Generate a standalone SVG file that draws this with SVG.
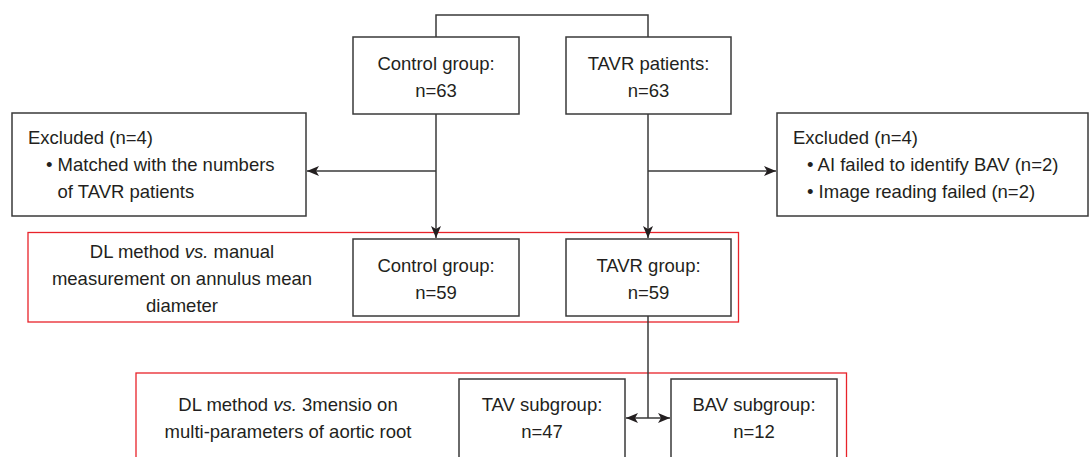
<svg xmlns="http://www.w3.org/2000/svg" width="1089" height="457" viewBox="0 0 1089 457">
<defs>
<style>
.box{fill:#fff;stroke:#3a3a3a;stroke-width:1.5}
.red{fill:none;stroke:#e8232a;stroke-width:1.3}
.t{font-family:"Liberation Sans",Arial,sans-serif;font-size:18.5px;fill:#231f20}
.c{text-anchor:middle}
.ln{fill:none;stroke:#3a3a3a;stroke-width:1.5}
</style>
<marker id="ah" viewBox="0 0 12 10" markerUnits="userSpaceOnUse" markerWidth="12" markerHeight="10" refX="12" refY="5" orient="auto-start-reverse">
<path d="M0,0 L12,5 L0,10 L3,5 z" fill="#231f20"/>
</marker>
</defs>
<rect width="1089" height="457" fill="#fff"/>

<g id="red-frames">
<rect class="red" x="28" y="232.5" width="710.5" height="89.5"/>
<rect class="red" x="136" y="373" width="710.5" height="90"/>
</g>

<g id="connectors">
<path class="ln" d="M436,37 V15 H648 V37"/>
<path class="ln" d="M436,114 V238" marker-end="url(#ah)"/>
<path class="ln" d="M436,171 H307" marker-end="url(#ah)"/>
<path class="ln" d="M648,114 V238" marker-end="url(#ah)"/>
<path class="ln" d="M648,171 H776" marker-end="url(#ah)"/>
<path class="ln" d="M648,316 V418"/>
<path class="ln" d="M626,418 H670" marker-start="url(#ah)" marker-end="url(#ah)"/>
</g>

<g id="control-63">
<rect class="box" x="353" y="37" width="166" height="77"/>
<text class="t c" x="436" y="69.5">Control group:</text>
<text class="t c" x="436" y="97">n=63</text>
</g>

<g id="tavr-63">
<rect class="box" x="566" y="37" width="165" height="77"/>
<text class="t c" x="648.5" y="69.5">TAVR patients:</text>
<text class="t c" x="648.5" y="97">n=63</text>
</g>

<g id="excluded-left">
<rect class="box" x="12" y="113" width="294" height="103"/>
<text class="t" x="28" y="143.5">Excluded (n=4)</text>
<text class="t" x="46" y="171">• Matched with the numbers</text>
<text class="t" x="57.5" y="198">of TAVR patients</text>
</g>

<g id="excluded-right">
<rect class="box" x="777" y="113" width="311" height="103"/>
<text class="t" x="793" y="143.5">Excluded (n=4)</text>
<text class="t" x="807" y="171">• AI failed to identify BAV (n=2)</text>
<text class="t" x="807" y="198">• Image reading failed (n=2)</text>
</g>

<g id="label-annulus">
<text class="t c" x="182" y="257.5">DL method <tspan font-style="italic">vs.</tspan> manual</text>
<text class="t c" x="182" y="284.5">measurement on annulus mean</text>
<text class="t c" x="182" y="311.5">diameter</text>
</g>

<g id="control-59">
<rect class="box" x="353" y="239" width="166" height="77"/>
<text class="t c" x="436" y="271.5">Control group:</text>
<text class="t c" x="436" y="299">n=59</text>
</g>

<g id="tavr-59">
<rect class="box" x="566" y="239" width="165" height="77"/>
<text class="t c" x="648.5" y="271.5">TAVR group:</text>
<text class="t c" x="648.5" y="299">n=59</text>
</g>

<g id="label-root">
<text class="t c" x="288" y="411">DL method <tspan font-style="italic">vs.</tspan> 3mensio on</text>
<text class="t c" x="288" y="437.5">multi-parameters of aortic root</text>
</g>

<g id="tav-47">
<rect class="box" x="459" y="379" width="166" height="85"/>
<text class="t c" x="542" y="411">TAV subgroup:</text>
<text class="t c" x="542" y="437.5">n=47</text>
</g>

<g id="bav-12">
<rect class="box" x="671" y="379" width="166" height="85"/>
<text class="t c" x="754" y="411">BAV subgroup:</text>
<text class="t c" x="754" y="437.5">n=12</text>
</g>
</svg>
